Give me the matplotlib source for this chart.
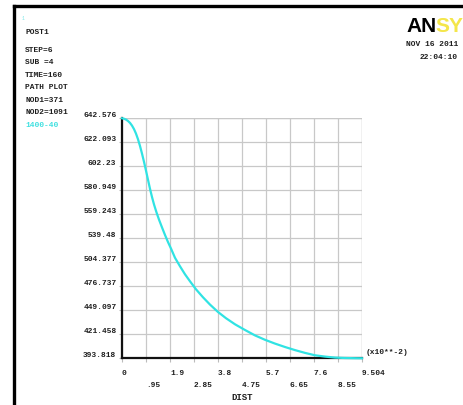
import numpy as np
import matplotlib
matplotlib.use("Agg")
import matplotlib.pyplot as plt
from matplotlib.lines import Line2D

# path plot data (DIST in x10**-2, value along path)
dist = [0.000, 0.079, 0.158, 0.238, 0.317, 0.396, 0.475, 0.554, 0.634, 0.713,
        0.792, 0.871, 0.950, 1.030, 1.109, 1.188, 1.267, 1.366, 1.465, 1.584,
        1.703, 1.822, 1.941, 2.099, 2.297, 2.495, 2.693, 2.930, 3.208, 3.485,
        3.802, 4.118, 4.475, 4.871, 5.267, 5.663, 6.059, 6.455, 6.851, 7.247,
        7.643, 8.039, 8.435, 8.831, 9.227, 9.504]
value = [642.576, 642.16, 641.23, 639.78, 637.81, 635.01, 631.38, 626.72, 620.81, 613.87,
         605.99, 597.49, 588.37, 578.83, 569.50, 561.00, 553.33, 545.04, 537.58, 529.50,
         521.62, 514.26, 507.53, 497.99, 489.17, 480.88, 473.63, 465.33, 457.04, 449.48,
         441.81, 435.38, 429.06, 423.15, 417.55, 412.99, 409.05, 405.53, 402.31, 399.42,
         396.93, 395.58, 394.55, 394.13, 393.92, 393.818]

ylabels = ["393.818", "421.458", "449.097", "476.737", "504.377", "539.48",
           "559.243", "580.949", "602.23", "622.093", "642.576"]
xlabels = ["0", ".95", "1.9", "2.85", "3.8", "4.75", "5.7", "6.65", "7.6", "8.55", "9.504"]

info = ["STEP=6", "SUB =4", "TIME=160", "PATH PLOT", "NOD1=371", "NOD2=1091"]

ymin, ymax = 393.818, 642.576
xmax = 9.504
mono = "Liberation Mono"
fs = 5.7
tcol = "#1e1e1e"

W, H = 463, 406
fig = plt.figure(figsize=(W / 100, H / 100), dpi=100)
fig.patch.set_facecolor("white")

# frame on top and left
fig.add_artist(Line2D([13.5 / W, 1], [1 - 6.5 / H, 1 - 6.5 / H], color="black", lw=2.4))
fig.add_artist(Line2D([14 / W, 14 / W], [0, 1 - 6.5 / H], color="black", lw=2.4))

ax = fig.add_axes([122 / W, 46.7 / H, 240 / W, 240 / H])
ax.set_xlim(0, xmax)
ax.set_ylim(ymin, ymax)

xt = np.arange(11) * xmax / 10
yt = np.linspace(ymin, ymax, 11)

ax.set_xticks(xt[0::2])
ax.set_xticklabels(xlabels[0::2])
ax.set_xticks(xt[1::2], minor=True)
ax.set_xticklabels(xlabels[1::2], minor=True)
ax.set_yticks(yt)
ax.set_yticklabels(ylabels)

for lab in ax.get_xticklabels(which="both") + ax.get_yticklabels():
    lab.set_fontfamily(mono)
    lab.set_fontsize(fs)
    lab.set_fontweight("bold")
    lab.set_color(tcol)
for lab in ax.get_xticklabels(which="both"):
    lab.set_horizontalalignment("left")
for lab in ax.get_yticklabels():
    lab.set_verticalalignment("bottom")

ax.tick_params(axis="x", which="major", length=3, width=0.8, color="#bbbbbb", pad=4.5)
ax.tick_params(axis="x", which="minor", length=3, width=0.8, color="#bbbbbb", pad=13)
ax.tick_params(axis="y", length=2, width=0.8, color="#bbbbbb", pad=2)

ax.grid(True, which="both", color="#c8c8c8", lw=0.9)
ax.set_axisbelow(True)

for s in ["top", "right"]:
    ax.spines[s].set_visible(False)
for s in ["left", "bottom"]:
    ax.spines[s].set_linewidth(1.6)
    ax.spines[s].set_color("#111111")
ax.axhline(ymax, color="#c8c8c8", lw=0.9, zorder=0.5)
ax.axvline(xmax, color="#c8c8c8", lw=0.9, zorder=0.5)

ax.plot(dist, value, color="#30e3e3", lw=1.6, clip_on=False, zorder=5)

ax.text(xmax + 0.15, ymin + 0.03 * (ymax - ymin), "(x10**-2)", fontfamily=mono,
        fontsize=fs, fontweight="bold", color=tcol, ha="left", va="center")
fig.text(242 / W, 1 - 397.5 / H, "DIST", fontfamily=mono, fontsize=fs + 0.8,
         fontweight="bold", color=tcol, ha="center", va="center")

# header text
fig.text(22 / W, 1 - 18 / H, "1", fontfamily=mono, fontsize=3.5, color="#7ee8e8",
         ha="left", va="center")
fig.text(25 / W, 1 - 32 / H, "POST1", fontfamily=mono, fontsize=fs, fontweight="bold",
         color=tcol, ha="left", va="center")
for i, line in enumerate(info):
    fig.text(25 / W, 1 - (50 + 12.6 * i) / H, line, fontfamily=mono, fontsize=fs,
             fontweight="bold", color=tcol, ha="left", va="center")
fig.text(25 / W, 1 - 126 / H, "1400-40", fontfamily=mono, fontsize=fs,
         fontweight="bold", color="#3ee0e0", ha="left", va="center")

fig.text(458 / W, 1 - 45 / H, "NOV 16 2011", fontfamily=mono, fontsize=fs,
         fontweight="bold", color=tcol, ha="right", va="center")
fig.text(458 / W, 1 - 58 / H, "22:04:10", fontfamily=mono, fontsize=fs,
         fontweight="bold", color=tcol, ha="right", va="center")

# logo, runs off the right edge
fig.text(406 / W, 1 - 26 / H, "AN", fontfamily="Liberation Sans", fontweight="bold",
         fontsize=15, color="black", ha="left", va="center")
fig.text(435 / W, 1 - 26 / H, "SYS", fontfamily="Liberation Sans", fontweight="bold",
         fontsize=15, color="#f4e64a", ha="left", va="center")

fig.savefig("out.png", dpi=100, facecolor="white")
